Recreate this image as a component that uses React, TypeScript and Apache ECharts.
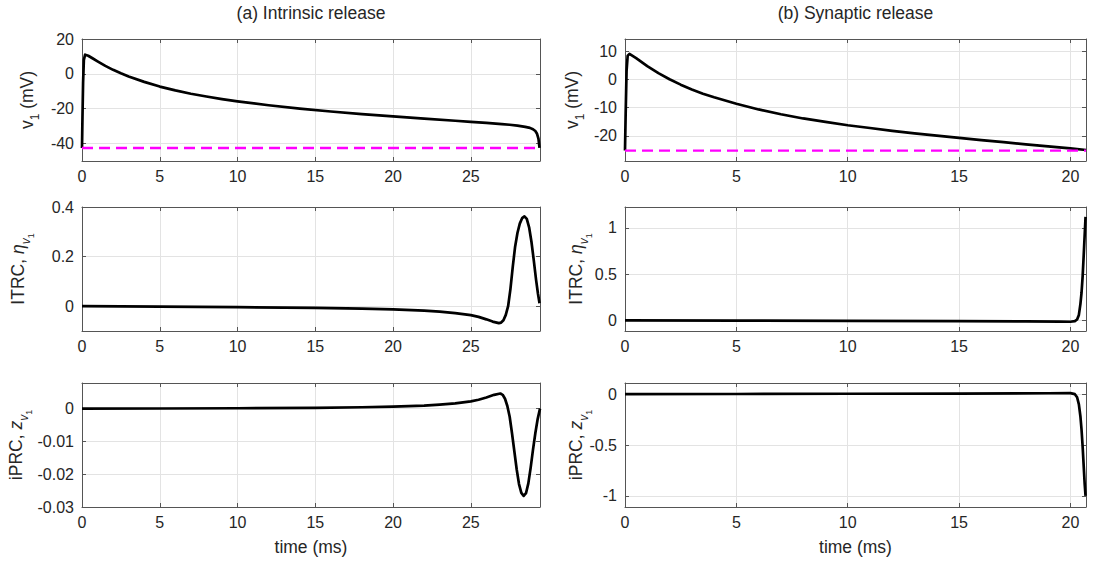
import React, { useEffect, useRef } from "react";
import * as echarts from "echarts";

// ---------- data ----------
const titles = ["(a) Intrinsic release", "(b) Synaptic release"];
const xAxisName = "time (ms)";

// (a) intrinsic release
const tV_A = [0, 0.03, 0.07, 0.12, 0.2, 0.4, 0.7, 1, 1.5, 2, 2.5, 3, 4, 5, 6, 7, 8, 9, 10, 12, 14, 16, 18, 20, 22, 24, 25, 26, 27, 27.5, 28, 28.5, 28.8, 29, 29.15, 29.25, 29.35, 29.42];
const vA = [-42.5, -25, -5, 8, 11, 10.4, 8.8, 7.2, 4.6, 2.3, 0.3, -1.5, -4.6, -7.3, -9.5, -11.4, -13.0, -14.5, -15.8, -18.0, -19.9, -21.6, -23.1, -24.4, -25.7, -26.9, -27.5, -28.1, -28.8, -29.2, -29.7, -30.4, -31.0, -31.8, -32.8, -34.2, -37.2, -42.5];
const thresholdA = -42.5;

const tItrc_A = [0, 5, 10, 15, 18, 20, 22, 23, 24, 25, 25.5, 26, 26.4, 26.8, 26.95, 27.1, 27.25, 27.4, 27.55, 27.7, 27.85, 28.0, 28.15, 28.3, 28.45, 28.6, 28.75, 28.9, 29.05, 29.2, 29.32, 29.42];
const itrcA = [0, -0.002, -0.004, -0.007, -0.01, -0.013, -0.018, -0.022, -0.028, -0.036, -0.043, -0.053, -0.062, -0.068, -0.066, -0.057, -0.035, 0.0, 0.07, 0.16, 0.24, 0.295, 0.333, 0.355, 0.362, 0.352, 0.318, 0.26, 0.185, 0.105, 0.05, 0.012];

const tIprc_A = [0, 5, 10, 15, 18, 20, 22, 23, 24, 25, 25.5, 26, 26.5, 26.9, 27.05, 27.2, 27.35, 27.5, 27.65, 27.8, 27.95, 28.1, 28.25, 28.4, 28.55, 28.7, 28.85, 29.0, 29.15, 29.3, 29.45];
const iprcA = [0, 0.00003, 0.0001, 0.0002, 0.0004, 0.0006, 0.0009, 0.0012, 0.0016, 0.0022, 0.0027, 0.0034, 0.0042, 0.0046, 0.0042, 0.003, 0.0008, -0.0025, -0.0075, -0.013, -0.0185, -0.023, -0.0257, -0.0266, -0.0258, -0.0228, -0.018, -0.0125, -0.0075, -0.0032, 0.0];

// (b) synaptic release
const tV_B = [0, 0.03, 0.07, 0.12, 0.2, 0.5, 1, 1.5, 2, 2.5, 3, 3.5, 4, 5, 6, 7, 8, 9, 10, 11, 12, 13, 14, 15, 16, 17, 18, 19, 20, 20.7];
const vB = [-25.2, -12, 3, 8.5, 9.1, 7.6, 4.8, 2.3, 0.1, -1.8, -3.5, -5.0, -6.3, -8.6, -10.6, -12.3, -13.8, -15.0, -16.2, -17.2, -18.2, -19.1, -19.9, -20.7, -21.5, -22.2, -23.0, -23.7, -24.4, -25.0];
const thresholdB = -25.2;

const tItrc_B = [0, 5, 10, 15, 18, 19.5, 20.0, 20.2, 20.3, 20.38, 20.45, 20.5, 20.55, 20.6, 20.64, 20.68];
const itrcB = [0, -0.002, -0.004, -0.007, -0.01, -0.013, -0.014, -0.008, 0.01, 0.06, 0.18, 0.3, 0.48, 0.72, 0.92, 1.12];

const tIprc_B = [0, 5, 10, 15, 19, 20, 20.2, 20.3, 20.38, 20.45, 20.5, 20.55, 20.6, 20.64, 20.68];
const iprcB = [0, 0.002, 0.004, 0.006, 0.009, 0.01, 0.0, -0.03, -0.1, -0.22, -0.35, -0.52, -0.72, -0.88, -1.0];

// axis ticks / ranges
const xTicksA = [0, 5, 10, 15, 20, 25];
const xTicksB = [0, 5, 10, 15, 20];
const xMaxA = 29.45;
const xMaxB = 20.7;
const yTicksVA = [-40, -20, 0, 20];
const yTicksVB = [-20, -10, 0, 10];
const yTicksItrcA = [0, 0.2, 0.4];
const yTicksItrcB = [0, 0.5, 1];
const yTicksIprcA = [-0.03, -0.02, -0.01, 0];
const yTicksIprcB = [-1, -0.5, 0];

const FONT = "'Liberation Sans', Arial, Helvetica, sans-serif";
const TXT = "#262626";
const AX = "#555555";
const GRIDC = "#e3e3e3";
const TICK_FS = 16;
const LABEL_FS = 17.5;

const zip = (xs: number[], ys: number[]) => xs.map((x, i) => [x, ys[i]]);

// y-label pieces: [text, level (0 main, 1 sub, 2 subsub), italic]
type Seg = [string, number, boolean];
const labelV: Seg[] = [["v", 0, false], ["1", 1, false], [" (mV)", 0, false]];
const labelItrc: Seg[] = [["ITRC, ", 0, false], ["η", 0, true], ["v", 1, true], ["1", 2, false]];
const labelIprc: Seg[] = [["iPRC, ", 0, false], ["z", 0, true], ["v", 1, true], ["1", 2, false]];

const LEVEL_SIZE = [LABEL_FS, 12, 9];
const LEVEL_DY = [0, 8, 13];

type Panel = {
  grid: { left: number; top: number; width: number; height: number };
  xMax: number; xTicks: number[];
  yMin: number; yMax: number; yTicks: number[];
  yLabel: Seg[]; yLabelX: number; showXName: boolean;
  curves: { data: number[][]; color: string; width: number; dashed?: boolean }[];
};

const LW = 2.7;
const colL = { left: 82, width: 458 };
const colR = { left: 625, width: 461 };
const rows = [ { top: 39, height: 122 }, { top: 207, height: 124 }, { top: 383, height: 124 } ];

const panels: Panel[] = [
  { grid: { ...colL, ...rows[0] }, xMax: xMaxA, xTicks: xTicksA, yMin: -50, yMax: 20, yTicks: yTicksVA, yLabel: labelV, yLabelX: 27, showXName: false,
    curves: [ { data: zip(tV_A, vA), color: "#000", width: LW }, { data: [[0, thresholdA], [xMaxA, thresholdA]], color: "#ff00ff", width: 2.4, dashed: true } ] },
  { grid: { ...colL, ...rows[1] }, xMax: xMaxA, xTicks: xTicksA, yMin: -0.1, yMax: 0.4, yTicks: yTicksItrcA, yLabel: labelItrc, yLabelX: 18, showXName: false,
    curves: [ { data: zip(tItrc_A, itrcA), color: "#000", width: LW } ] },
  { grid: { ...colL, ...rows[2] }, xMax: xMaxA, xTicks: xTicksA, yMin: -0.03, yMax: 0.0078, yTicks: yTicksIprcA, yLabel: labelIprc, yLabelX: 16, showXName: true,
    curves: [ { data: zip(tIprc_A, iprcA), color: "#000", width: LW } ] },
  { grid: { ...colR, ...rows[0] }, xMax: xMaxB, xTicks: xTicksB, yMin: -28.9, yMax: 14.4, yTicks: yTicksVB, yLabel: labelV, yLabelX: 572, showXName: false,
    curves: [ { data: zip(tV_B, vB), color: "#000", width: LW }, { data: [[0, thresholdB], [xMaxB, thresholdB]], color: "#ff00ff", width: 2.4, dashed: true } ] },
  { grid: { ...colR, ...rows[1] }, xMax: xMaxB, xTicks: xTicksB, yMin: -0.114, yMax: 1.227, yTicks: yTicksItrcB, yLabel: labelItrc, yLabelX: 576, showXName: false,
    curves: [ { data: zip(tItrc_B, itrcB), color: "#000", width: LW } ] },
  { grid: { ...colR, ...rows[2] }, xMax: xMaxB, xTicks: xTicksB, yMin: -1.11, yMax: 0.11, yTicks: yTicksIprcB, yLabel: labelIprc, yLabelX: 576, showXName: true,
    curves: [ { data: zip(tIprc_B, iprcB), color: "#000", width: LW } ] },
];

const fmt = (v: number) => String(Number(v.toFixed(6)));

let measureCtx: CanvasRenderingContext2D | null = null;
function textWidth(text: string, size: number, italic: boolean) {
  if (!measureCtx) measureCtx = document.createElement("canvas").getContext("2d");
  measureCtx!.font = `${italic ? "italic " : ""}${size}px ${FONT}`;
  return measureCtx!.measureText(text).width;
}

// rotated (bottom-to-top) label with sub/sub-sub scripts
function rotatedLabel(segs: Seg[], cx: number, cy: number) {
  const widths = segs.map(([t, lv, it]) => textWidth(t, LEVEL_SIZE[lv], it));
  const total = widths.reduce((a, b) => a + b, 0);
  let x = -total / 2;
  const children = segs.map(([t, lv, it], i) => {
    const el = {
      type: "text", x, y: LEVEL_DY[lv],
      style: { text: t, fontSize: LEVEL_SIZE[lv], fontFamily: FONT, fontStyle: it ? "italic" : "normal", fill: TXT, align: "left", verticalAlign: "middle" },
    };
    x += widths[i];
    return el;
  });
  return { type: "group", x: cx, y: cy, rotation: Math.PI / 2, children };
}

function buildOption() {
  const grid: any[] = [];
  const xAxis: any[] = [];
  const yAxis: any[] = [];
  const series: any[] = [];
  const graphic: any[] = [];
  panels.forEach((p, i) => {
    grid.push({ ...p.grid, containLabel: false, outerBoundsMode: "none" });
    const axisLine = { show: true, onZero: false, lineStyle: { color: AX, width: 1 } };
    const tick = (vals: number[]) => ({ show: true, inside: true, length: 4, lineStyle: { color: AX }, customValues: vals });
    xAxis.push({
      type: "value", gridIndex: i, position: "bottom", min: 0, max: p.xMax,
      axisLine, axisTick: tick(p.xTicks),
      axisLabel: { show: true, customValues: p.xTicks, formatter: fmt, fontSize: TICK_FS, fontFamily: FONT, color: TXT, margin: 7 },
      splitLine: { show: true, lineStyle: { color: GRIDC, width: 1 } },
      name: p.showXName ? xAxisName : "", nameLocation: "middle", nameGap: 31,
      nameTextStyle: { fontSize: LABEL_FS, fontFamily: FONT, color: TXT },
    });
    xAxis.push({
      type: "value", gridIndex: i, position: "top", min: 0, max: p.xMax,
      axisLine, axisTick: tick(p.xTicks), axisLabel: { show: false }, splitLine: { show: false },
    });
    yAxis.push({
      type: "value", gridIndex: i, position: "left", min: p.yMin, max: p.yMax,
      axisLine, axisTick: tick(p.yTicks),
      axisLabel: { show: true, customValues: p.yTicks, formatter: fmt, fontSize: TICK_FS, fontFamily: FONT, color: TXT, margin: 8 },
      splitLine: { show: true, lineStyle: { color: GRIDC, width: 1 } },
    });
    yAxis.push({
      type: "value", gridIndex: i, position: "right", min: p.yMin, max: p.yMax,
      axisLine, axisTick: tick(p.yTicks), axisLabel: { show: false }, splitLine: { show: false },
    });
    p.curves.forEach((c) => {
      series.push({
        type: "line", xAxisIndex: 2 * i, yAxisIndex: 2 * i, data: c.data,
        showSymbol: false, symbol: "none", smooth: false, silent: true,
        lineStyle: { color: c.color, width: c.width, type: c.dashed ? [11, 6] : "solid", join: "round", cap: "butt" },
        z: c.dashed ? 3 : 2,
      });
    });
    graphic.push(rotatedLabel(p.yLabel, p.yLabelX, p.grid.top + p.grid.height / 2));
  });
  graphic.push(
    { type: "text", x: colL.left + colL.width / 2, y: 13, style: { text: titles[0], align: "center", verticalAlign: "middle", fontSize: LABEL_FS, fontFamily: FONT, fill: TXT } },
    { type: "text", x: colR.left + colR.width / 2, y: 13, style: { text: titles[1], align: "center", verticalAlign: "middle", fontSize: LABEL_FS, fontFamily: FONT, fill: TXT } },
  );
  return { animation: false, backgroundColor: "#ffffff", grid, xAxis, yAxis, series, graphic };
}

export default function App() {
  const ref = useRef<HTMLDivElement>(null);
  useEffect(() => {
    document.body.style.margin = "0";
    const chart = echarts.init(ref.current!, undefined, { renderer: "svg" });
    chart.setOption(buildOption() as any);
    return () => chart.dispose();
  }, []);
  return <div ref={ref} style={{ width: 1094, height: 561 }} />;
}
